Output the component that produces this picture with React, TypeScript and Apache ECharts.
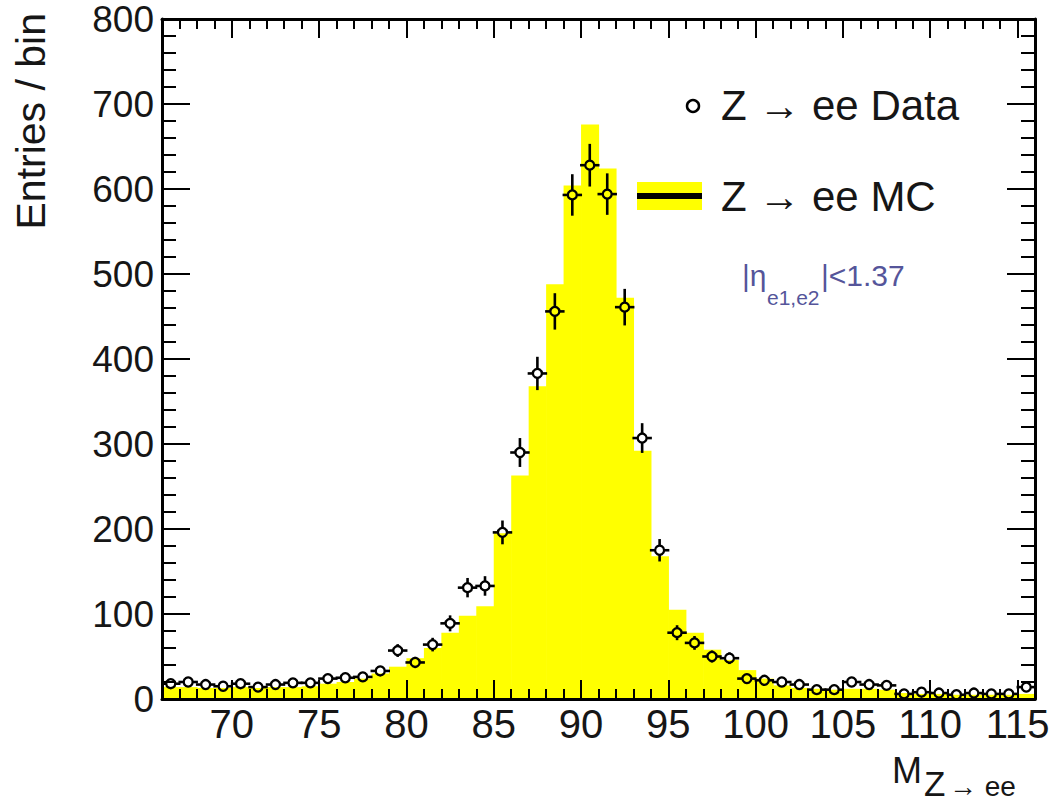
import React, { useEffect, useRef } from "react";
import * as echarts from "echarts";

// ---- data ----
const massBinCenters = [
  66.5, 67.5, 68.5, 69.5, 70.5, 71.5, 72.5, 73.5, 74.5, 75.5,
  76.5, 77.5, 78.5, 79.5, 80.5, 81.5, 82.5, 83.5, 84.5, 85.5,
  86.5, 87.5, 88.5, 89.5, 90.5, 91.5, 92.5, 93.5, 94.5, 95.5,
  96.5, 97.5, 98.5, 99.5, 100.5, 101.5, 102.5, 103.5, 104.5, 105.5,
  106.5, 107.5, 108.5, 109.5, 110.5, 111.5, 112.5, 113.5, 114.5, 115.5,
];
const mcEntries = [
  14, 14, 13, 13, 14, 13, 14, 14, 15, 18,
  20, 24, 30, 38, 48, 60, 78, 98, 109, 195,
  263, 368, 488, 604, 676, 624, 472, 292, 168, 105,
  78, 58, 46, 34, 24, 16, 13, 12, 11, 12,
  12, 11, 7, 6, 6, 5, 5, 5, 5, 6,
];
const dataEntries = [
  18, 20, 17, 15, 18, 14, 17, 19, 19, 24,
  25, 26, 33, 57, 43, 64, 89, 131, 133, 196,
  290, 383, 456, 593, 628, 594, 461, 307, 175, 78,
  66, 50, 48, 24, 22, 20, 17, 11, 11, 20,
  17, 16, 6, 8, 7, 5, 7, 6, 6, 14,
];
const dataErrors = [
  4.2, 4.5, 4.1, 3.9, 4.2, 3.7, 4.1, 4.4, 4.4, 4.9,
  5.0, 5.1, 5.7, 7.5, 6.6, 8.0, 9.4, 11.4, 11.5, 14.0,
  17.0, 19.6, 21.4, 24.4, 25.1, 24.4, 21.5, 17.5, 13.2, 8.8,
  8.1, 7.1, 6.9, 4.9, 4.7, 4.5, 4.1, 3.3, 3.3, 4.5,
  4.1, 4.0, 2.4, 2.8, 2.6, 2.2, 2.6, 2.4, 2.4, 3.7,
];
const xMajorTicks = [70, 75, 80, 85, 90, 95, 100, 105, 110, 115];
const xMinorTicks = [
  66, 67, 68, 69, 70, 71, 72, 73, 74, 75, 76, 77, 78, 79, 80, 81, 82, 83, 84, 85,
  86, 87, 88, 89, 90, 91, 92, 93, 94, 95, 96, 97, 98, 99, 100, 101, 102, 103, 104,
  105, 106, 107, 108, 109, 110, 111, 112, 113, 114, 115, 116,
];
const binHalfWidth = 0.5;

const FONT = "'Liberation Sans', Arial, Helvetica, sans-serif";
const TXT = "#161616";

function makeXAxis(position: "top" | "bottom", major: boolean, showLine: boolean, showLabel: boolean) {
  return {
    type: "value",
    min: 66,
    max: 116,
    position,
    z: 10,
    axisLine: { show: showLine, onZero: false, lineStyle: { color: "#000", width: 3 } },
    axisTick: {
      show: true,
      inside: true,
      length: major ? 19 : 10,
      customValues: major ? xMajorTicks : xMinorTicks,
      lineStyle: { color: "#000", width: 2 },
    },
    axisLabel: {
      show: showLabel,
      customValues: major ? xMajorTicks : xMinorTicks,
      fontSize: 40,
      fontFamily: FONT,
      color: TXT,
      margin: 5,
    },
    splitLine: { show: false },
  };
}

function makeYAxis(position: "left" | "right", showLabel: boolean) {
  return {
    type: "value",
    min: 0,
    max: 800,
    interval: 100,
    position,
    z: 10,
    axisLine: { show: true, onZero: false, lineStyle: { color: "#000", width: 3 } },
    axisTick: { show: true, inside: true, length: 28, lineStyle: { color: "#000", width: 2 } },
    minorTick: { show: true, splitNumber: 5, length: 14, lineStyle: { color: "#000", width: 2 } },
    axisLabel: { show: showLabel, fontSize: 37, fontFamily: FONT, color: TXT, margin: 8 },
    splitLine: { show: false },
    minorSplitLine: { show: false },
  };
}

export default function App() {
  const ref = useRef<HTMLDivElement>(null);

  useEffect(() => {
    if (!ref.current) return;
    const chart = echarts.init(ref.current, null, { renderer: "svg" });

    const mcData = massBinCenters.map((c, i) => [c - binHalfWidth, c + binHalfWidth, mcEntries[i]]);
    const pointData = massBinCenters.map((c, i) => [c, dataEntries[i], dataErrors[i]]);

    const option: any = {
      animation: false,
      backgroundColor: "#ffffff",
      grid: { left: 162, right: 25, top: 19, bottom: 104, show: false },
      xAxis: [
        makeXAxis("bottom", true, true, true),
        makeXAxis("bottom", false, false, false),
        makeXAxis("top", true, true, false),
        makeXAxis("top", false, false, false),
      ],
      yAxis: [makeYAxis("left", true), makeYAxis("right", false)],
      series: [
        {
          type: "custom",
          name: "Z → ee MC",
          xAxisIndex: 0,
          yAxisIndex: 0,
          z: 2,
          encode: { x: [0, 1], y: 2 },
          data: mcData,
          renderItem: (params: any, api: any) => {
            const lo = api.value(0);
            const hi = api.value(1);
            const v = api.value(2);
            const p0 = api.coord([lo, v]);
            const p1 = api.coord([hi, 0]);
            return {
              type: "rect",
              shape: { x: p0[0], y: p0[1], width: p1[0] - p0[0] + 0.6, height: p1[1] - p0[1] },
              style: { fill: "#ffff00" },
            };
          },
        },
        {
          type: "custom",
          name: "Z → ee Data",
          xAxisIndex: 0,
          yAxisIndex: 0,
          z: 4,
          encode: { x: 0, y: 1 },
          data: pointData,
          renderItem: (params: any, api: any) => {
            const x = api.value(0);
            const y = api.value(1);
            const e = api.value(2);
            const c = api.coord([x, y]);
            const t = api.coord([x, y + e]);
            const b = api.coord([x, y - e]);
            const l = api.coord([x - binHalfWidth, y]);
            const r = api.coord([x + binHalfWidth, y]);
            const R = 4.5;
            const ls = { stroke: "#000", lineWidth: 2.6 };
            const children: any[] = [];
            if (c[1] - t[1] > R) {
              children.push({ type: "line", shape: { x1: c[0], y1: c[1] - R, x2: t[0], y2: t[1] }, style: ls });
            }
            if (b[1] - c[1] > R) {
              children.push({ type: "line", shape: { x1: c[0], y1: c[1] + R, x2: b[0], y2: b[1] }, style: ls });
            }
            children.push({ type: "line", shape: { x1: l[0] - 1, y1: c[1], x2: c[0] - R, y2: c[1] }, style: ls });
            children.push({ type: "line", shape: { x1: c[0] + R, y1: c[1], x2: r[0] + 1, y2: c[1] }, style: ls });
            children.push({
              type: "circle",
              shape: { cx: c[0], cy: c[1], r: R },
              style: { fill: "rgba(0,0,0,0)", stroke: "#000", lineWidth: 2.3 },
            });
            return { type: "group", children };
          },
        },
      ],
      graphic: [
        // y-axis title
        {
          type: "text",
          x: 31,
          y: 13,
          rotation: Math.PI / 2,
          style: {
            text: "Entries / bin",
            fontSize: 41,
            fontFamily: FONT,
            fill: TXT,
            textAlign: "right",
            textVerticalAlign: "middle",
          },
        },
        // x-axis title  M_{Z -> ee}
        {
          type: "text",
          x: 892,
          y: 770,
          style: { text: "M", fontSize: 36, fontFamily: FONT, fill: TXT, textAlign: "left", textVerticalAlign: "middle" },
        },
        {
          type: "text",
          x: 924,
          y: 783,
          style: { text: "Z", fontSize: 35, fontFamily: FONT, fill: TXT, textAlign: "left", textVerticalAlign: "middle" },
        },
        {
          type: "text",
          x: 949,
          y: 786,
          style: { text: "→ ee", fontSize: 28, fontFamily: FONT, fill: TXT, textAlign: "left", textVerticalAlign: "middle" },
        },
        // legend: data
        {
          type: "circle",
          shape: { cx: 693, cy: 106, r: 6 },
          style: { fill: "#fff", stroke: "#000", lineWidth: 2.5 },
        },
        {
          type: "text",
          x: 721,
          y: 105,
          style: { text: "Z → ee Data", fontSize: 42, fontFamily: FONT, fill: TXT, textAlign: "left", textVerticalAlign: "middle" },
        },
        // legend: MC
        {
          type: "rect",
          shape: { x: 637, y: 182, width: 65, height: 28 },
          style: { fill: "#ffff00" },
        },
        {
          type: "line",
          shape: { x1: 637, y1: 196, x2: 702, y2: 196 },
          style: { stroke: "#000", lineWidth: 6 },
        },
        {
          type: "text",
          x: 721,
          y: 196,
          style: { text: "Z → ee MC", fontSize: 42, fontFamily: FONT, fill: TXT, textAlign: "left", textVerticalAlign: "middle" },
        },
        // |eta| cut label
        {
          type: "text",
          x: 742,
          y: 275,
          style: { text: "|η", fontSize: 30, fontFamily: FONT, fill: "#55559a", textAlign: "left", textVerticalAlign: "middle" },
        },
        {
          type: "text",
          x: 767,
          y: 297,
          style: { text: "e1,e2", fontSize: 21, fontFamily: FONT, fill: "#55559a", textAlign: "left", textVerticalAlign: "middle" },
        },
        {
          type: "text",
          x: 821,
          y: 275,
          style: { text: "|<1.37", fontSize: 30, fontFamily: FONT, fill: "#55559a", textAlign: "left", textVerticalAlign: "middle" },
        },
      ],
    };

    chart.setOption(option);
    return () => chart.dispose();
  }, []);

  return (
    <div
      ref={ref}
      style={{ position: "absolute", left: 0, top: 0, width: 1060, height: 803 }}
    />
  );
}
